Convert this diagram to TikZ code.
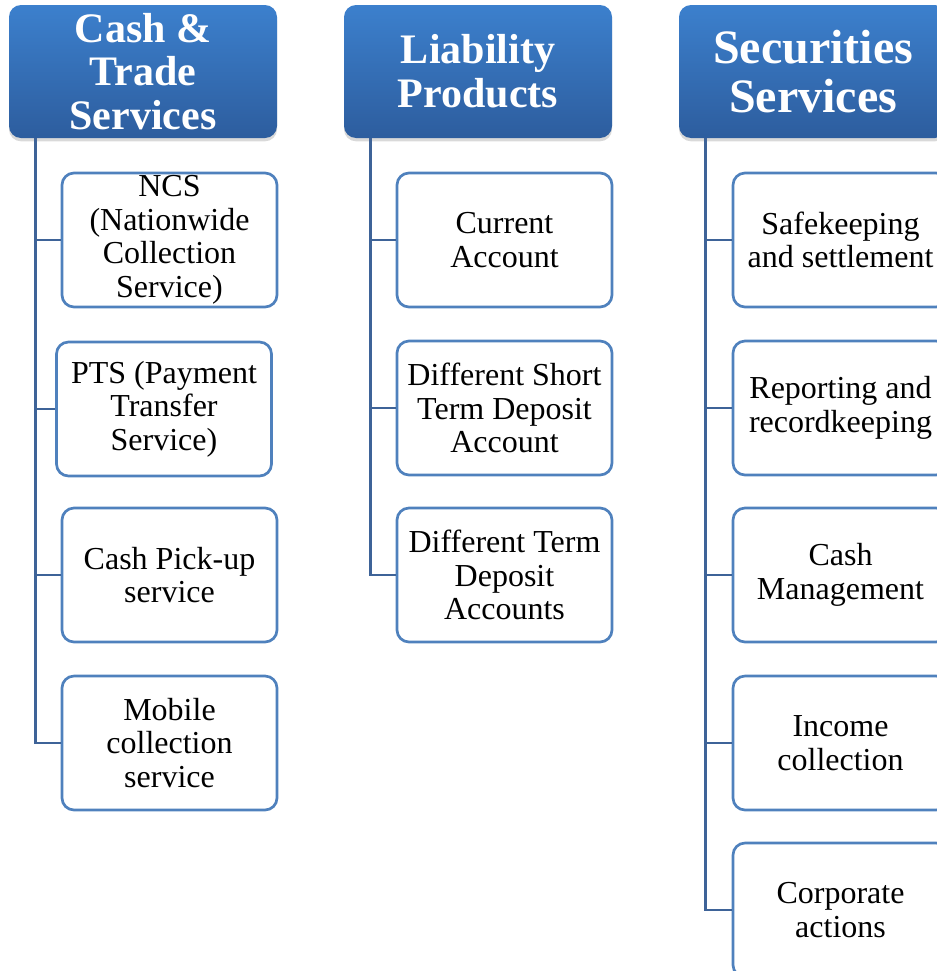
\documentclass[tikz,border=0pt]{standalone}
\usepackage{fontspec}
\setmainfont{Liberation Serif}
\usetikzlibrary{shadows}
\definecolor{boxblue}{RGB}{79,129,189}
\definecolor{linkblue}{RGB}{62,99,152}
\definecolor{hdtop}{RGB}{60,128,205}
\definecolor{hdbot}{RGB}{45,93,158}
\begin{document}
\begin{tikzpicture}[x=0.75pt,y=-0.75pt,
 headbox/.style={rectangle, rounded corners=9pt, top color=hdtop, bottom color=hdbot, draw=none,
   minimum width=201pt, minimum height=99.75pt, text=white, align=center, inner sep=0pt,
   drop shadow={opacity=0.3, shadow xshift=0pt, shadow yshift=-2.5pt}},
 itembox/.style={rectangle, rounded corners=9pt, draw=boxblue, line width=2pt, fill=white,
   minimum width=161.25pt, minimum height=100.5pt, align=center, inner sep=0pt,
   font=\fontsize{24}{25.2}\selectfont},
 linkline/.style={draw=linkblue, line width=2.1pt}]
\useasboundingbox (0,0) rectangle (936,971);
% headers
\node[headbox, font=\bfseries\fontsize{31.5}{32.6}\selectfont] (h1) at (143,71.5) {Cash \&\\Trade\\Services};
\node[headbox, font=\bfseries\fontsize{31.5}{33}\selectfont] (h2) at (478,71.5) {Liability\\Products};
\node[headbox, font=\bfseries\fontsize{36}{36.75}\selectfont] (h3) at (813,71.5) {Securities\\Services};
% trunk coordinates
\coordinate (t1) at ([xshift=20.25pt]h1.south west);
\coordinate (t2) at ([xshift=20.25pt]h2.south west);
\coordinate (t3) at ([xshift=20.25pt]h3.south west);
% column 1
\node[itembox] (c11) at (169.5,240) {NCS\\(Nationwide\\Collection\\Service)};
\node[itembox] (c12) at (164,409) {PTS (Payment\\Transfer\\Service)};
\node[itembox] (c13) at (169.5,575) {Cash Pick-up\\service};
\node[itembox] (c14) at (169.5,743) {Mobile\\collection\\service};
% column 2
\node[itembox] (c21) at (504.5,240) {Current\\Account};
\node[itembox] (c22) at (504.5,408) {Different Short\\Term Deposit\\Account};
\node[itembox] (c23) at (504.5,575) {Different Term\\Deposit\\Accounts};
% column 3
\node[itembox] (c31) at (840.5,240) {Safekeeping\\and settlement};
\node[itembox] (c32) at (840.5,408) {Reporting and\\recordkeeping};
\node[itembox] (c33) at (840.5,575) {Cash\\Management};
\node[itembox] (c34) at (840.5,743) {Income\\collection};
\node[itembox] (c35) at (840.5,910) {Corporate\\actions};
% connectors
\foreach \c in {c11,c12,c13,c14} \draw[linkline] (t1) |- (\c.west);
\foreach \c in {c21,c22,c23} \draw[linkline] (t2) |- (\c.west);
\foreach \c in {c31,c32,c33,c34,c35} \draw[linkline] (t3) |- (\c.west);
\end{tikzpicture}
\end{document}
